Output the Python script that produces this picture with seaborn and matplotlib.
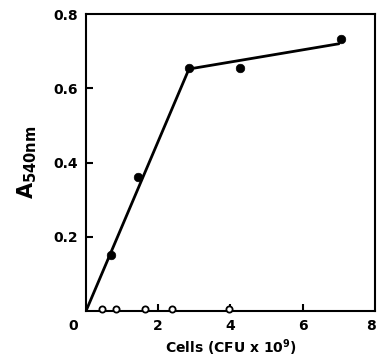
import matplotlib
matplotlib.use("Agg")
import matplotlib.pyplot as plt
import matplotlib.transforms as mtransforms
import seaborn as sns
import pandas as pd

# filled points (cells vs absorbance)
cells_filled = [0.68, 1.45, 2.85, 4.25, 7.06]
abs_filled = [0.152, 0.362, 0.656, 0.655, 0.733]

# open points, lying on the baseline
cells_open = [0.43, 0.82, 1.63, 2.38, 3.97]
abs_open = [0.006, 0.006, 0.006, 0.006, 0.006]

# fitted line
fit_x = [0.0, 2.85, 7.0]
fit_y = [0.0, 0.652, 0.72]

xticks = [0, 2, 4, 6, 8]
yticks = [0.2, 0.4, 0.6, 0.8]

sns.set_style("ticks")
plt.rcParams['font.family'] = ['DejaVu Sans']
plt.rcParams['text.color'] = 'black'
plt.rcParams['xtick.color'] = 'black'
plt.rcParams['ytick.color'] = 'black'
plt.rcParams['axes.labelcolor'] = 'black'
plt.rcParams['axes.edgecolor'] = 'black'

filled = pd.DataFrame({'cells': cells_filled, 'a540': abs_filled})
opened = pd.DataFrame({'cells': cells_open, 'a540': abs_open})
fit = pd.DataFrame({'cells': fit_x, 'a540': fit_y})

fig = plt.figure(figsize=(3.78, 3.61), dpi=100)
ax = fig.add_axes([0.2275, 0.1385, 0.7645, 0.8225])

sns.lineplot(data=fit, x='cells', y='a540', color='black', linewidth=2, ax=ax, sort=False)
sns.scatterplot(data=filled, x='cells', y='a540', color='black', s=38, edgecolor='black', ax=ax, zorder=3)
sns.scatterplot(data=opened, x='cells', y='a540', facecolor='white', edgecolor='black',
                linewidth=1.3, s=20, ax=ax, zorder=3, clip_on=False)

ax.set_xlim(0, 8)
ax.set_ylim(0, 0.8)
ax.set_xticks(xticks)
ax.set_yticks(yticks)
ax.set_xticklabels([str(t) for t in xticks], fontsize=10, fontweight='bold')
ax.set_yticklabels([f"{t:.1f}" for t in yticks], fontsize=10, fontweight='bold')
ax.tick_params(direction='in', length=5, width=1.5, pad=6)

# no tick marks at the corners
xt = ax.xaxis.get_major_ticks()
xt[0].tick1line.set_visible(False)
xt[-1].tick1line.set_visible(False)
ax.yaxis.get_major_ticks()[-1].tick1line.set_visible(False)

# origin label sits left of the axis, last label kept inside the figure
labels = ax.get_xticklabels()
labels[0].set_transform(labels[0].get_transform() + mtransforms.ScaledTranslation(-0.13, 0, fig.dpi_scale_trans))
labels[-1].set_transform(labels[-1].get_transform() + mtransforms.ScaledTranslation(-0.04, 0, fig.dpi_scale_trans))

for s in ax.spines.values():
    s.set_linewidth(1.5)
    s.set_visible(True)

ax.set_xlabel(r"Cells (CFU x 10$^{\mathbf{9}}$)", fontsize=10, fontweight='bold', labelpad=3)
ax.set_ylabel(r"A$_{\mathbf{540nm}}$", fontsize=15, fontweight='bold', labelpad=10)

fig.savefig("out.png", dpi=100)
